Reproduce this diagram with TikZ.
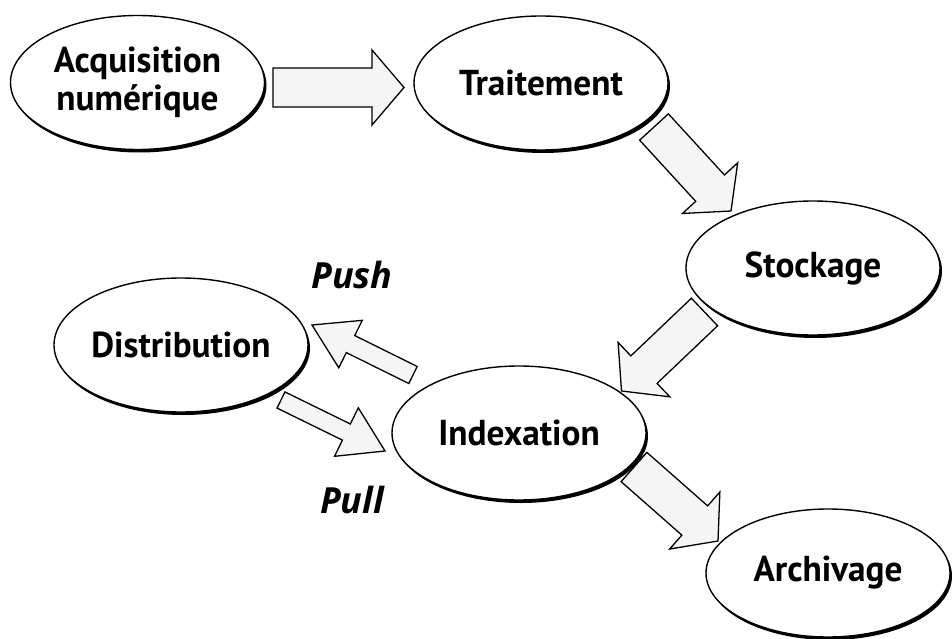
\documentclass[tikz,border=0pt]{standalone}
\usepackage{fontspec}
\setmainfont{PT Sans}[FakeStretch=0.98]
\newfontfamily\labelfont{Open Sans}
\usetikzlibrary{shapes.geometric,calc,shadows}
\newcommand\fatarrow[5]{% tail, tip, shaft half width, head half width, head length
  \path ($(#2)!#5!(#1)$) coordinate (hb);
  \draw[fat] ($(#1)!#3!90:(#2)$) -- ($(hb)!#3!90:(#2)$) -- ($(hb)!#4!90:(#2)$) -- (#2)
    -- ($(hb)!#4!-90:(#2)$) -- ($(hb)!#3!-90:(#2)$) -- ($(#1)!#3!-90:(#2)$) -- cycle;}
\begin{document}
\begin{tikzpicture}[x=1pt,y=-1pt,
  stage/.style={ellipse, draw=black, line width=1.4pt, fill=white,
    minimum width=254pt, minimum height=134pt, inner sep=0pt, align=center,
    font=\fontsize{36}{38}\selectfont\bfseries,
    drop shadow={shadow xshift=2pt, shadow yshift=-3pt, fill=black, opacity=1}},
  flowlabel/.style={font=\labelfont\fontsize{36}{38}\selectfont\bfseries\itshape, anchor=base},
  fat/.style={draw=black, line width=1.3pt, fill=black!4, line join=miter}]
\useasboundingbox (0,0) rectangle (952,639);

\node[stage] (acq) at (137.5,82.5) {Acquisition\\numérique};
\node[stage] (trt) at (541,83) {Traitement};
\node[stage] (sto) at (813,268) {Stockage};
\node[stage] (dis) at (181,345) {Distribution};
\node[stage] (idx) at (519,433) {Indexation};
\node[stage, minimum width=244pt, minimum height=128pt] (arc) at (828,573) {Archivage};

\coordinate (a1s) at (273,87.5);  \coordinate (a1e) at (404,87.5);
\coordinate (a2s) at (654,127);   \coordinate (a2e) at (731,211);
\coordinate (a3s) at (704.5,312); \coordinate (a3e) at (621.5,391);
\coordinate (a4s) at (634,467);   \coordinate (a4e) at (718,541);
\coordinate (pushs) at (413,375); \coordinate (pushe) at (312,325);
\coordinate (pulls) at (281,400); \coordinate (pulle) at (385,451);

\fatarrow{a1s}{a1e}{19.5pt}{37.5pt}{32pt}
\fatarrow{a2s}{a2e}{19.5pt}{37.5pt}{31pt}
\fatarrow{a3s}{a3e}{19pt}{37.5pt}{31pt}
\fatarrow{a4s}{a4e}{19.5pt}{38pt}{31pt}
\fatarrow{pushs}{pushe}{9.5pt}{26.5pt}{43pt}
\fatarrow{pulls}{pulle}{9pt}{27pt}{43pt}

\node[flowlabel] (push) at (352,288) {Push};
\node[flowlabel] (pull) at (352,513) {Pull};
\end{tikzpicture}
\end{document}
